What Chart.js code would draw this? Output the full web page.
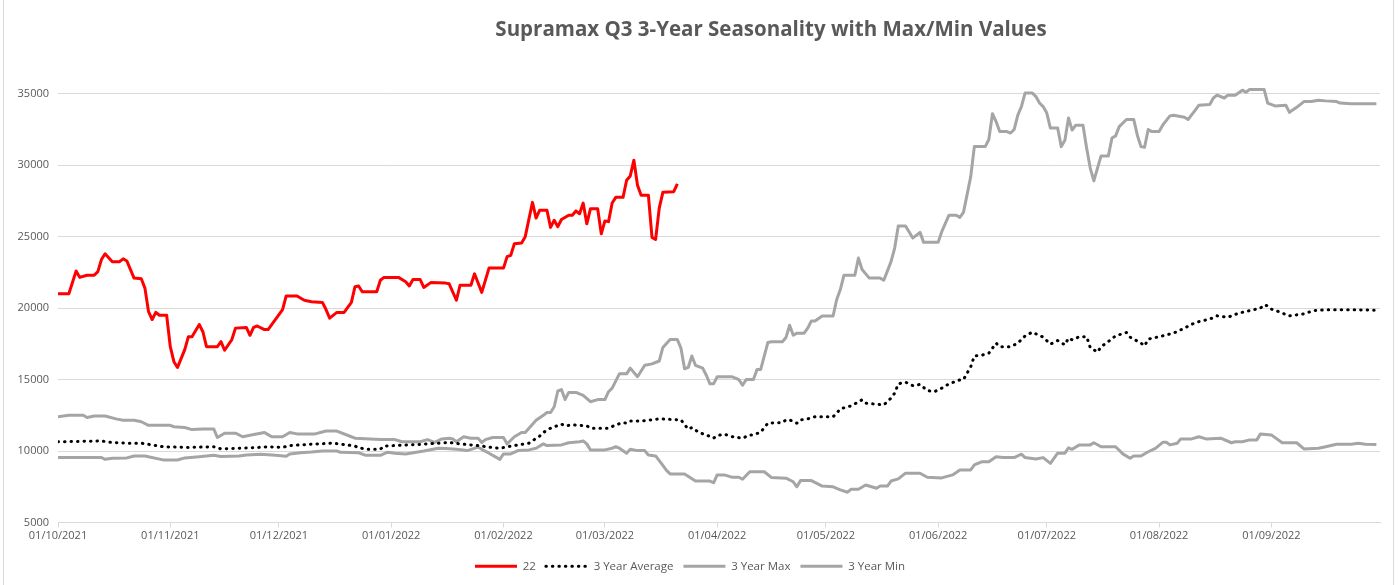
<!DOCTYPE html>
<html>
<head>
<meta charset="utf-8">
<script src="https://cdn.jsdelivr.net/npm/chart.js@4.4.1/dist/chart.umd.min.js"></script>
<style>
  html, body { margin: 0; padding: 0; background: #fff; }
  #wrap { position: relative; width: 1399px; height: 585px; }
  #frame { position: absolute; left: 3px; top: -2px; width: 1389px; height: 590px;
           border: 1px solid #d9d9d9; pointer-events: none; }
</style>
</head>
<body>
<div id="wrap">
  <canvas id="myChart" width="1399" height="585"></canvas>
  <div id="frame"></div>
</div>
<script>
// x values are days counted from 01/10/2021
var title = "Supramax Q3 3-Year Seasonality with Max/Min Values";
var tickLabels = ["01/10/2021", "01/11/2021", "01/12/2021", "01/01/2022", "01/02/2022", "01/03/2022",
  "01/04/2022", "01/05/2022", "01/06/2022", "01/07/2022", "01/08/2022", "01/09/2022"];
var yTicks = [5000, 10000, 15000, 20000, 25000, 30000, 35000];

var series22 = [[0,21000],[3,21000],[5,22600],[6,22150],[8,22300],[10,22300],[11,22550],[12,23400],[13,23800],
  [15,23250],[17,23250],[18,23450],[19,23300],[21,22100],[23,22050],[24,21400],[25,19750],[26,19200],[27,19700],
  [28,19500],[30,19500],[31,17300],[32,16250],[33,15850],[35,17100],[36,18000],[37,18000],[39,18850],[40,18350],
  [41,17300],[44,17300],[45,17650],[46,17050],[48,17800],[49,18600],[52,18650],[53,18100],[54,18650],[55,18750],
  [57,18500],[58,18500],[60,19200],[62,19900],[63,20850],[66,20850],[68,20550],[70,20450],[73,20400],[74,19900],
  [75,19300],[77,19700],[79,19700],[81,20400],[82,21500],[83,21550],[84,21150],[88,21150],[89,21950],[90,22150],
  [94,22150],[96,21850],[97,21550],[98,22000],[100,22000],[101,21450],[103,21800],[107,21750],[108,21700],
  [110,20550],[111,21600],[114,21600],[115,22400],[117,21100],[119,22800],[123,22800],[124,23600],[125,23700],
  [126,24500],[128,24550],[129,25000],[131,27400],[132,26300],[133,26850],[135,26850],[136,25650],[137,26150],
  [138,25700],[139,26200],[141,26500],[142,26500],[143,26800],[144,26600],[145,27350],[146,25900],[147,26950],
  [149,26950],[150,25200],[151,26100],[152,26050],[153,27350],[154,27750],[156,27750],[157,28950],[158,29250],
  [159,30350],[160,28600],[161,27900],[163,27900],[164,24950],[165,24800],[166,27000],[167,28100],[170,28150],
  [171,28700]];

var avg3 = [[0,10650],[12,10700],[15,10600],[19,10550],[23,10550],[26,10430],[29,10300],[36,10250],[43,10300],
  [45,10150],[54,10230],[58,10300],[62,10260],[64,10380],[70,10480],[76,10550],[82,10350],[83,10230],[85,10130],
  [89,10130],[90,10350],[99,10450],[105,10550],[108,10600],[111,10500],[114,10430],[117,10350],[119,10270],
  [122,10190],[124,10300],[130,10550],[133,11050],[134,11300],[136,11600],[139,11880],[140,11760],[142,11830],
  [146,11760],[147,11600],[152,11600],[154,11830],[156,11990],[157,11950],[158,12100],[161,12100],[166,12250],
  [172,12180],[174,11530],[175,11640],[177,11290],[179,11130],[181,10900],[182,11080],[184,11180],[186,11010],
  [189,10900],[191,11130],[192,11130],[194,11320],[196,11950],[200,11990],[201,12180],[202,12180],[204,11950],
  [205,12180],[207,12250],[209,12400],[214,12400],[215,12650],[216,12950],[219,13160],[222,13580],[223,13350],
  [225,13300],[228,13230],[230,13700],[231,14050],[232,14700],[234,14820],[236,14580],[238,14660],[240,14230],
  [242,14160],[244,14400],[246,14700],[249,14980],[250,15000],[252,15900],[253,16650],[255,16700],[257,16850],
  [259,17550],[260,17300],[263,17300],[265,17550],[267,18050],[269,18320],[270,18200],[272,17970],[274,17480],
  [276,17730],[278,17430],[279,17900],[280,17780],[282,18000],[284,18000],[285,17240],[287,16920],[288,17300],
  [290,17660],[292,18060],[295,18290],[296,17970],[299,17550],[300,17360],[301,17830],[304,18000],[308,18250],
  [311,18600],[314,18990],[318,19230],[320,19460],[323,19360],[326,19650],[330,19880],[332,20000],[333,20230],
  [334,20150],[335,19930],[337,19760],[338,19650],[340,19460],[342,19530],[344,19600],[345,19690],[347,19830],
  [350,19880],[359,19880],[364,19850]];

var max3 = [[0,12400],[3,12500],[7,12500],[8,12350],[10,12450],[13,12450],[16,12250],[18,12150],[21,12150],
  [23,12050],[25,11800],[31,11800],[32,11700],[35,11650],[37,11500],[40,11550],[43,11550],[44,10950],[46,11250],
  [49,11250],[51,11000],[53,11100],[57,11300],[58,11150],[59,11000],[62,11000],[64,11300],[66,11200],[71,11200],
  [74,11400],[77,11400],[81,11000],[82,10900],[89,10800],[93,10800],[95,10650],[100,10650],[102,10800],
  [104,10600],[106,10850],[108,10900],[109,10850],[110,10650],[112,11000],[114,10900],[116,10900],[117,10600],
  [118,10800],[120,10950],[123,10950],[124,10500],[126,11000],[128,11300],[129,11300],[132,12150],[134,12500],
  [135,12700],[136,12700],[137,13100],[138,14200],[139,14300],[140,13600],[141,14100],[143,14100],[145,13900],
  [147,13450],[149,13600],[151,13600],[152,14150],[153,14400],[155,15400],[157,15400],[158,15800],[160,15200],
  [162,16000],[164,16100],[166,16300],[167,17250],[169,17800],[171,17800],[172,17200],[173,15750],[174,15850],
  [175,16650],[176,16000],[178,15800],[179,15300],[180,14700],[181,14700],[182,15200],[186,15200],[188,15000],
  [189,14600],[190,15000],[192,15000],[193,15700],[194,15700],[196,17600],[197,17650],[200,17650],[201,17950],
  [202,18800],[203,18100],[204,18250],[206,18250],[207,18600],[208,19100],[209,19100],[211,19450],[214,19450],
  [215,20600],[216,21300],[217,22300],[220,22300],[221,23500],[222,22700],[224,22100],[227,22100],[228,21950],
  [230,23250],[231,24200],[232,25750],[234,25750],[236,24900],[238,25300],[239,24600],[243,24600],[244,25350],
  [246,26500],[248,26500],[249,26350],[250,26700],[252,29200],[253,31300],[256,31300],[257,31800],[258,33600],
  [259,33050],[260,32350],[262,32350],[263,32250],[264,32500],[265,33500],[266,34100],[267,35050],[269,35050],
  [270,34800],[271,34350],[272,34100],[273,33650],[274,32600],[276,32600],[277,31300],[278,31750],[279,33300],
  [280,32450],[281,32800],[283,32800],[284,31200],[285,29800],[286,28900],[287,29800],[288,30650],[290,30650],
  [291,31900],[292,32050],[293,32700],[295,33200],[297,33200],[298,32100],[299,31300],[300,31250],[301,32500],
  [302,32350],[304,32350],[305,32800],[307,33450],[308,33500],[311,33350],[312,33200],[314,33850],[315,34200],
  [318,34250],[319,34700],[320,34900],[322,34700],[323,34900],[325,34900],[327,35250],[328,35100],[329,35300],
  [333,35300],[334,34350],[336,34150],[339,34200],[340,33700],[342,34050],[344,34450],[346,34450],[348,34550],
  [350,34500],[353,34450],[354,34350],[357,34300],[364,34300]];

var min3 = [[0,9550],[12,9550],[13,9420],[15,9500],[19,9520],[21,9650],[24,9650],[29,9380],[33,9370],[35,9520],
  [39,9600],[43,9700],[45,9620],[50,9650],[52,9720],[56,9770],[60,9700],[63,9640],[64,9800],[67,9880],[70,9930],
  [73,10000],[77,10000],[78,9910],[83,9880],[85,9700],[89,9700],[91,9920],[93,9850],[96,9800],[101,10000],
  [105,10200],[107,10180],[110,10120],[113,10030],[116,10270],[117,10120],[119,9850],[122,9420],[123,9800],
  [125,9800],[127,10030],[130,10080],[132,10190],[134,10500],[135,10380],[139,10430],[141,10580],[144,10650],
  [145,10700],[146,10500],[147,10080],[151,10080],[153,10200],[154,10300],[155,10200],[157,9850],[158,10120],
  [160,10030],[162,10030],[163,9720],[165,9660],[167,9000],[168,8650],[169,8400],[173,8400],[176,7900],[180,7900],
  [181,7780],[182,8330],[184,8330],[186,8170],[188,8170],[189,8030],[191,8550],[195,8550],[197,8140],[201,8100],
  [203,7850],[204,7500],[205,7930],[208,7930],[211,7550],[214,7500],[216,7280],[218,7120],[219,7330],[221,7330],
  [223,7620],[226,7400],[227,7550],[229,7550],[230,7900],[232,8050],[234,8450],[238,8450],[240,8170],[244,8120],
  [247,8330],[249,8680],[252,8680],[253,9030],[255,9250],[257,9250],[259,9600],[261,9540],[264,9540],[266,9780],
  [267,9540],[270,9450],[272,9540],[274,9140],[276,9850],[278,9850],[279,10230],[280,10120],[282,10430],
  [285,10430],[286,10580],[288,10300],[292,10300],[294,9800],[296,9490],[297,9650],[299,9650],[301,9950],
  [303,10190],[305,10610],[306,10610],[307,10430],[309,10540],[310,10850],[313,10850],[315,11000],[317,10850],
  [321,10900],[324,10580],[325,10650],[327,10650],[329,10780],[331,10780],[332,11200],[335,11130],[338,10580],
  [342,10580],[344,10150],[348,10190],[350,10300],[353,10480],[357,10480],[359,10540],[361,10480],[364,10450]];

var start = new Date(2021, 9, 1);

function labelToDay(s) {
  var p = s.split("/");
  var d = new Date(+p[2], +p[1] - 1, +p[0]);
  return Math.round((d - start) / 86400000);
}

function dayToLabel(day) {
  var d = new Date(2021, 9, 1 + day);
  var dd = ("0" + d.getDate()).slice(-2);
  var mm = ("0" + (d.getMonth() + 1)).slice(-2);
  return dd + "/" + mm + "/" + d.getFullYear();
}

function toPoints(arr) {
  return arr.map(function (p) { return { x: p[0], y: p[1] }; });
}

var grey = "#A5A5A5";
var textColor = "#595959";
var font = "'Open Sans', sans-serif";

var titlePlugin = {
  id: "sheetTitle",
  afterDraw: function (chart) {
    var ctx = chart.ctx;
    ctx.save();
    ctx.font = "bold 20.5px " + font;
    ctx.fillStyle = textColor;
    ctx.textAlign = "center";
    ctx.textBaseline = "middle";
    ctx.fillText(title, 771, 30);
    ctx.restore();
  }
};

var ctx = document.getElementById("myChart").getContext("2d");
var chart = new Chart(ctx, {
  type: "line",
  data: {
    datasets: [{
      label: "22",
      data: toPoints(series22),
      borderColor: "#FF0000",
      borderWidth: 3
    }, {
      label: "3 Year Average",
      data: toPoints(avg3),
      borderColor: "#000000",
      borderWidth: 3,
      borderDash: [0.5, 6],
      borderCapStyle: "round"
    }, {
      label: "3 Year Max",
      data: toPoints(max3),
      borderColor: grey,
      borderWidth: 3
    }, {
      label: "3 Year Min",
      data: toPoints(min3),
      borderColor: grey,
      borderWidth: 3
    }]
  },
  options: {
    responsive: false,
    animation: false,
    parsing: false,
    elements: {
      point: { radius: 0 },
      line: { tension: 0, borderJoinStyle: "round" }
    },
    layout: { padding: { left: 0, right: 19, top: 58, bottom: 3 } },
    plugins: {
      tooltip: { enabled: false },
      title: { display: false },
      legend: {
        position: "bottom",
        labels: {
          usePointStyle: true,
          pointStyleWidth: 42,
          boxHeight: 11,
          padding: 10,
          color: textColor,
          font: { family: font, size: 11.5 },
          generateLabels: function (c) {
            return c.data.datasets.map(function (ds, i) {
              return {
                text: ds.label,
                strokeStyle: ds.borderColor,
                fillStyle: ds.borderColor,
                lineWidth: 3,
                lineDash: ds.borderDash || [],
                lineCap: ds.borderCapStyle || "butt",
                pointStyle: "line",
                fontColor: textColor,
                datasetIndex: i
              };
            });
          }
        }
      }
    },
    scales: {
      x: {
        type: "linear",
        min: 0,
        max: 365,
        afterBuildTicks: function (scale) {
          scale.ticks = tickLabels.map(function (t) { return { value: labelToDay(t) }; });
        },
        afterFit: function (scale) { scale.height = 28; },
        ticks: {
          autoSkip: false,
          maxRotation: 0,
          color: textColor,
          font: { family: font, size: 11 },
          padding: 2,
          callback: function (v) { return dayToLabel(v); }
        },
        grid: { drawOnChartArea: false, tickLength: 5, color: "#d9d9d9" },
        border: { color: "#d9d9d9" }
      },
      y: {
        min: 5000,
        max: 37500,
        afterBuildTicks: function (scale) {
          scale.ticks = yTicks.map(function (v) { return { value: v }; });
        },
        afterFit: function (scale) { scale.width = 58; },
        ticks: {
          color: textColor,
          font: { family: font, size: 11 },
          padding: 9,
          callback: function (v) { return String(v); }
        },
        grid: { color: "#d9d9d9", drawTicks: false },
        border: { display: false }
      }
    }
  },
  plugins: [titlePlugin]
});
</script>
</body>
</html>
